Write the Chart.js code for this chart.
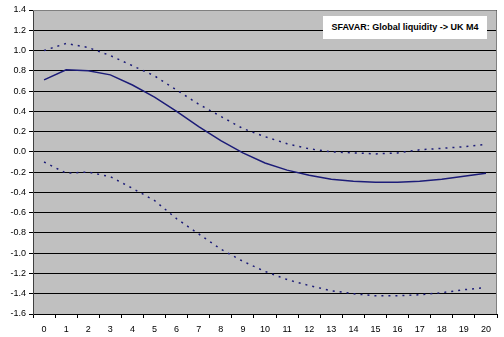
<!DOCTYPE html>
<html>
<head>
<meta charset="utf-8">
<script src="https://cdn.jsdelivr.net/npm/chart.js@4.4.1/dist/chart.umd.min.js"></script>
<style>
    body { margin: 0; background: #fff; }
    .wrap { position: relative; width: 504px; height: 337px; }
    .legendBox {
        position: absolute; left: 323px; top: 16px; width: 164px; height: 23px;
        background: #fff; font: bold 9px "Liberation Sans", Arial, sans-serif;
        color: #000; line-height: 23px; text-align: center; white-space: nowrap;
    }
</style>
</head>
<body>
<div class="wrap">
    <canvas id="chart" width="504" height="337"></canvas>
    <div class="legendBox">SFAVAR: Global liquidity -&gt; UK M4</div>
</div>
<script>
const horizons = ["0","1","2","3","4","5","6","7","8","9","10","11","12","13","14","15","16","17","18","19","20"];
const response = [0.71, 0.81, 0.80, 0.76, 0.66, 0.54, 0.40, 0.25, 0.11, -0.01, -0.11, -0.18, -0.23, -0.27, -0.29, -0.30, -0.30, -0.29, -0.27, -0.24, -0.21];
const upperBand = [1.00, 1.07, 1.03, 0.95, 0.85, 0.75, 0.61, 0.47, 0.35, 0.23, 0.15, 0.08, 0.03, 0.00, -0.01, -0.02, -0.01, 0.02, 0.035, 0.05, 0.075];
const lowerBand = [-0.10, -0.21, -0.20, -0.245, -0.36, -0.48, -0.66, -0.81, -0.96, -1.08, -1.18, -1.26, -1.32, -1.37, -1.40, -1.42, -1.42, -1.41, -1.39, -1.36, -1.34];
const yMin = -1.6;
const yMax = 1.4;
const yStep = 0.2;

const lineColor = "#1c1c78";

// grey plot area + border on top / right
const plotBg = {
    id: 'plotBg',
    beforeDraw(chart) {
        const a = chart.chartArea;
        const ctx = chart.ctx;
        ctx.save();
        ctx.fillStyle = "#c0c0c0";
        ctx.fillRect(a.left, a.top, a.right - a.left, a.bottom - a.top);
        ctx.restore();
    },
    afterDatasetsDraw(chart) {
        const a = chart.chartArea;
        const ctx = chart.ctx;
        ctx.save();
        ctx.strokeStyle = "#808080";
        ctx.lineWidth = 1;
        ctx.beginPath();
        ctx.moveTo(a.left, a.top + 0.5);
        ctx.lineTo(a.right - 0.5, a.top + 0.5);
        ctx.lineTo(a.right - 0.5, a.bottom);
        ctx.stroke();
        ctx.restore();
    }
};

const font = { family: "'Liberation Sans', Arial, sans-serif", size: 9 };

new Chart(document.getElementById('chart'), {
    type: 'line',
    data: {
        labels: horizons,
        datasets: [
            { data: upperBand, borderColor: lineColor, borderWidth: 1.5, borderDash: [2, 5], pointRadius: 0, tension: 0 },
            { data: response, borderColor: lineColor, borderWidth: 1.5, pointRadius: 0, tension: 0 },
            { data: lowerBand, borderColor: lineColor, borderWidth: 1.5, borderDash: [2, 5], pointRadius: 0, tension: 0 }
        ]
    },
    options: {
        responsive: false,
        animation: false,
        layout: { padding: { top: 10, right: 7, left: 0, bottom: 0 } },
        plugins: { legend: { display: false }, tooltip: { enabled: false } },
        scales: {
            x: {
                offset: true,
                grid: { offset: true, drawOnChartArea: false, color: "#000", tickLength: 4 },
                border: { color: "#000" },
                ticks: { color: "#000", font: font, padding: 6, maxRotation: 0, autoSkip: false },
                afterFit(scale) { scale.height = 23; }
            },
            y: {
                min: yMin,
                max: yMax,
                grid: { color: "#000", tickLength: 4 },
                border: { color: "#404040" },
                ticks: {
                    stepSize: yStep, color: "#000", font: font, padding: 3,
                    callback: v => v.toFixed(1)
                },
                afterFit(scale) { scale.width = 33; }
            }
        }
    },
    plugins: [plotBg]
});
</script>
</body>
</html>
